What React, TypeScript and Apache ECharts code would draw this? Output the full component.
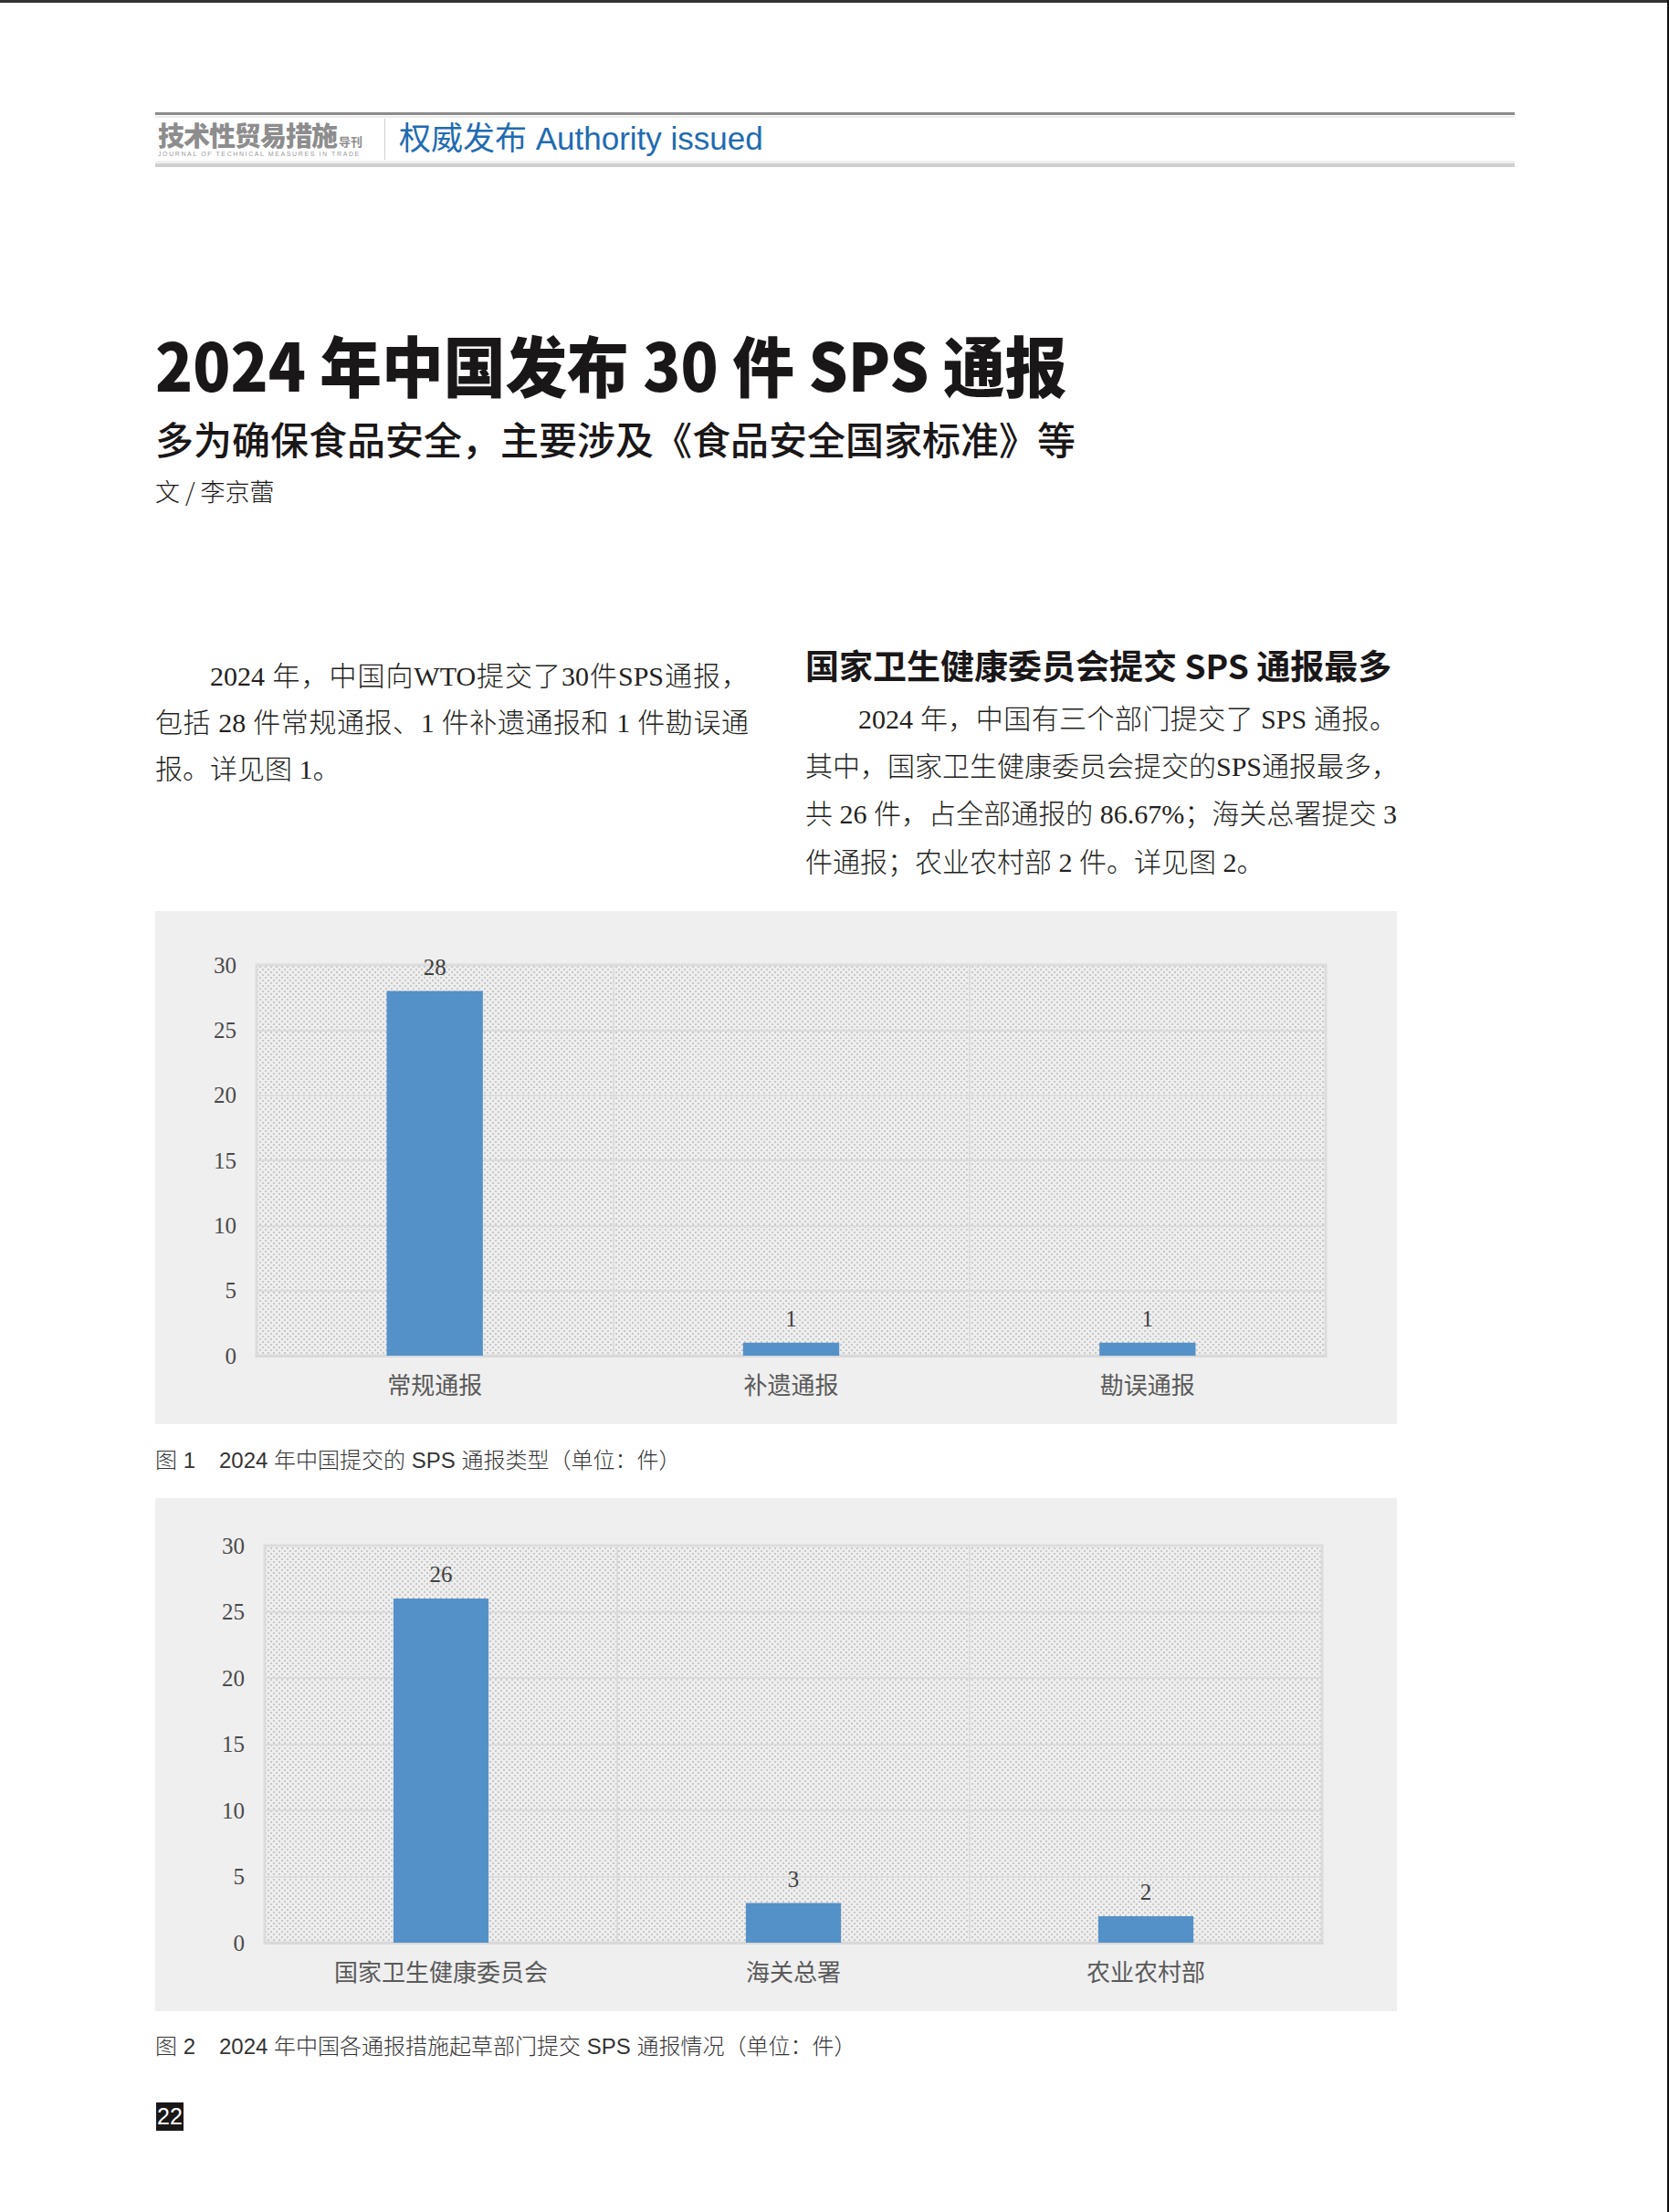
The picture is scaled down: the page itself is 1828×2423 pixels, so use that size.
import { useEffect, useRef } from 'react';
import * as echarts from 'echarts';

// 图1 数据
const typeCategories = ['常规通报', '补遗通报', '勘误通报'];
const typeValues = [28, 1, 1];

// 图2 数据
const deptCategories = ['国家卫生健康委员会', '海关总署', '农业农村部'];
const deptValues = [26, 3, 2];

const yMin = 0;
const yMax = 30;
const yStep = 5;

const SERIF = "'Liberation Serif', 'Noto Sans CJK SC', serif";
const SANS = "'Liberation Sans', 'Noto Sans CJK SC', sans-serif";
const CJK = "'Noto Sans CJK SC', sans-serif";

// Excel 风格的点状底纹
function makeDots() {
  const c = document.createElement('canvas');
  c.width = 6;
  c.height = 6;
  const ctx = c.getContext('2d')!;
  ctx.fillStyle = '#eeeeee';
  ctx.fillRect(0, 0, 6, 6);
  ctx.fillStyle = '#c9c9c9';
  ctx.fillRect(0, 0, 2, 2);
  ctx.fillRect(3, 3, 2, 2);
  return c;
}

interface BarPanelProps {
  categories: string[];
  values: number[];
  left: number;
  top: number;
  grid: { left: number; right: number; top: number; bottom: number };
}

function BarPanel({ categories, values, left, top, grid }: BarPanelProps) {
  const chartRef = useRef<HTMLDivElement>(null);

  useEffect(() => {
    if (!chartRef.current) return;
    const chart = echarts.init(chartRef.current, null, { renderer: 'svg' });

    chart.setOption({
      animation: false,
      backgroundColor: '#efefef',
      grid: {
        ...grid,
        show: true,
        backgroundColor: {
          image: makeDots(),
          repeat: 'repeat',
          imageWidth: 6,
          imageHeight: 6,
        },
        borderColor: '#dddddd',
        borderWidth: 3,
      },
      xAxis: {
        type: 'category',
        data: categories,
        axisLine: { show: true, lineStyle: { color: '#d9d9d9', width: 3 } },
        axisTick: { show: false },
        splitLine: {
          show: true,
          interval: 0,
          lineStyle: { color: '#dcdcdc', width: 2 },
        },
        axisLabel: {
          interval: 0,
          margin: 20,
          fontFamily: SERIF,
          fontSize: 26,
          color: '#5a5a5a',
        },
      },
      yAxis: {
        type: 'value',
        min: yMin,
        max: yMax,
        interval: yStep,
        axisLine: { show: false },
        axisTick: { show: false },
        splitLine: { lineStyle: { color: '#dcdcdc', width: 2 } },
        axisLabel: {
          margin: 22,
          fontFamily: SERIF,
          fontSize: 25,
          color: '#4a4a4a',
        },
      },
      series: [
        {
          type: 'bar',
          data: values,
          barWidth: '27%',
          itemStyle: { color: '#5591c9' },
          label: {
            show: true,
            position: 'top',
            distance: 14,
            fontFamily: SERIF,
            fontSize: 25,
            color: '#404040',
          },
        },
      ],
    });

    return () => chart.dispose();
  }, []);

  return (
    <div
      ref={chartRef}
      style={{ position: 'absolute', left, top, width: 1360, height: 562 }}
    />
  );
}

// 正文一行（两端对齐）
function TextLine({
  x,
  y,
  w,
  text,
  justify = true,
}: {
  x: number;
  y: number;
  w: number;
  text: string;
  justify?: boolean;
}) {
  return (
    <div
      style={{
        position: 'absolute',
        left: x,
        top: y - 20,
        width: w,
        height: 40,
        lineHeight: '40px',
        fontFamily: SERIF,
        fontSize: 30,
        fontWeight: 300,
        color: '#231f20',
        whiteSpace: 'nowrap',
        textAlign: justify ? 'justify' : 'left',
        textAlignLast: justify ? 'justify' : 'left',
      }}
    >
      {text}
    </div>
  );
}

function Box({ x, y, w, h, c }: { x: number; y: number; w: number; h: number; c: string }) {
  return <div style={{ position: 'absolute', left: x, top: y, width: w, height: h, background: c }} />;
}

export default function App() {
  return (
    <div
      style={{
        position: 'absolute',
        left: 0,
        top: 0,
        width: 1828,
        height: 2423,
        background: '#ffffff',
        overflow: 'hidden',
      }}
    >
      {/* 页面边框 */}
      <Box x={0} y={0} w={1828} h={3} c="#333333" />
      <Box x={1826} y={0} w={2} h={2423} c="#111111" />

      {/* 刊头 */}
      <Box x={170} y={123} w={1489} h={3} c="#8c8c8c" />
      <Box x={170} y={127} w={1489} h={2} c="#ececec" />
      <Box x={170} y={176} w={1489} h={3} c="#efefef" />
      <Box x={170} y={179} w={1489} h={4} c="#cfcfcf" />
      <Box x={421} y={130} w={1} h={45} c="#d0d0d0" />
      <div
        style={{
          position: 'absolute',
          left: 173,
          top: 132,
          lineHeight: '30px',
          fontFamily: CJK,
          fontSize: 29,
          fontWeight: 900,
          color: '#8d8d8d',
          whiteSpace: 'nowrap',
          letterSpacing: -1,
        }}
      >
        技术性贸易措施
        <span style={{ fontSize: 13, fontWeight: 700, marginLeft: 2, letterSpacing: 0 }}>导刊</span>
      </div>
      <div
        style={{
          position: 'absolute',
          left: 173,
          top: 164,
          lineHeight: '9px',
          fontFamily: SANS,
          fontSize: 7,
          letterSpacing: 1.6,
          color: '#9a9a9a',
          whiteSpace: 'nowrap',
        }}
      >
        JOURNAL OF TECHNICAL MEASURES IN TRADE
      </div>
      <div
        style={{
          position: 'absolute',
          left: 437,
          top: 134,
          lineHeight: '36px',
          fontFamily: SANS,
          fontSize: 35,
          color: '#1f6bb2',
          whiteSpace: 'nowrap',
        }}
      >
        权威发布 Authority issued
      </div>

      {/* 标题 */}
      <div
        style={{
          position: 'absolute',
          left: 170,
          top: 362,
          lineHeight: '72px',
          fontFamily: CJK,
          fontSize: 72,
          fontWeight: 900,
          color: '#1a1718',
          whiteSpace: 'nowrap',
          transform: 'scaleX(0.94)',
          transformOrigin: 'left center',
        }}
      >
        2024 年中国发布 30 件 SPS 通报
      </div>
      <div
        style={{
          position: 'absolute',
          left: 170,
          top: 459,
          lineHeight: '42px',
          fontFamily: CJK,
          fontSize: 42,
          fontWeight: 500,
          color: '#1a1718',
          whiteSpace: 'nowrap',
        }}
      >
        多为确保食品安全，主要涉及《食品安全国家标准》等
      </div>
      <div
        style={{
          position: 'absolute',
          left: 170,
          top: 524,
          lineHeight: '28px',
          fontFamily: CJK,
          fontSize: 27,
          fontWeight: 300,
          color: '#1a1718',
          whiteSpace: 'nowrap',
        }}
      >
        文 / 李京蕾
      </div>

      {/* 左栏正文 */}
      <TextLine x={230} y={741} w={590} text="2024 年，中国向WTO提交了30件SPS通报，" />
      <TextLine x={170} y={792} w={650} text="包括 28 件常规通报、1 件补遗通报和 1 件勘误通" />
      <TextLine x={170} y={843} w={650} text="报。详见图 1。" justify={false} />

      {/* 右栏 */}
      <div
        style={{
          position: 'absolute',
          left: 882,
          top: 708,
          lineHeight: '40px',
          fontFamily: CJK,
          fontSize: 37,
          fontWeight: 700,
          color: '#1a1718',
          whiteSpace: 'nowrap',
        }}
      >
        国家卫生健康委员会提交 SPS 通报最多
      </div>
      <TextLine x={940} y={788} w={590} text="2024 年，中国有三个部门提交了 SPS 通报。" />
      <TextLine x={882} y={840} w={648} text="其中，国家卫生健康委员会提交的SPS通报最多，" />
      <TextLine x={882} y={892} w={648} text="共 26 件，占全部通报的 86.67%；海关总署提交 3" />
      <TextLine x={882} y={945} w={648} text="件通报；农业农村部 2 件。详见图 2。" justify={false} />

      {/* 图1 */}
      <BarPanel
        categories={typeCategories}
        values={typeValues}
        left={170}
        top={998}
        grid={{ left: 111, right: 78, top: 59, bottom: 75 }}
      />
      <div
        style={{
          position: 'absolute',
          left: 170,
          top: 1585,
          lineHeight: '30px',
          fontFamily: SANS,
          fontSize: 24,
          fontWeight: 300,
          color: '#333333',
          whiteSpace: 'nowrap',
        }}
      >
        图 1<span style={{ display: 'inline-block', width: 26 }} />2024 年中国提交的 SPS 通报类型（单位：件）
      </div>

      {/* 图2 */}
      <BarPanel
        categories={deptCategories}
        values={deptValues}
        left={170}
        top={1641}
        grid={{ left: 120, right: 82, top: 52, bottom: 75 }}
      />
      <div
        style={{
          position: 'absolute',
          left: 170,
          top: 2227,
          lineHeight: '30px',
          fontFamily: SANS,
          fontSize: 24,
          fontWeight: 300,
          color: '#333333',
          whiteSpace: 'nowrap',
        }}
      >
        图 2<span style={{ display: 'inline-block', width: 26 }} />2024 年中国各通报措施起草部门提交 SPS 通报情况（单位：件）
      </div>

      {/* 页码 */}
      <div
        style={{
          position: 'absolute',
          left: 171,
          top: 2303,
          width: 30,
          height: 31,
          background: '#1a1718',
          color: '#ffffff',
          fontFamily: SANS,
          fontSize: 25,
          lineHeight: '31px',
          textAlign: 'center',
        }}
      >
        22
      </div>
    </div>
  );
}
